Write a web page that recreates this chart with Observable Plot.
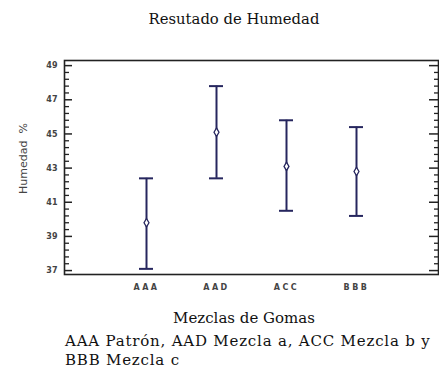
<!DOCTYPE html>
<html>
<head>
<meta charset="utf-8">
<script src="https://cdn.jsdelivr.net/npm/d3@7"></script>
<script src="https://cdn.jsdelivr.net/npm/@observablehq/plot@0.6"></script>
<style>
  body { margin: 0; background: #fff; }
  #fig { position: relative; width: 439px; height: 381px; overflow: hidden; background: #fff; }
  #fig svg { position: absolute; left: 0; top: 0; }
  .serif { position: absolute; font-family: "DejaVu Serif", serif; color: #111; white-space: nowrap; line-height: 19px; }
  #title { top: 9px; left: 0; width: 468px; text-align: center; font-size: 14.8px; }
  #xlab { top: 309px; left: 0; width: 488px; text-align: center; font-size: 15px; }
  #caption { top: 332px; left: 65px; font-size: 15px; letter-spacing: 0.8px; }
  g[aria-label="x-axis tick label"] text { letter-spacing: 2.5px; font-weight: bold; }
  g[aria-label="y-axis tick label"] text { font-weight: bold; }
  g[aria-label="ylabel"] text { letter-spacing: 1.6px; }
</style>
</head>
<body>
<div id="fig">
  <div id="title" class="serif">Resutado de Humedad</div>
  <div id="xlab" class="serif">Mezclas de Gomas</div>
  <div id="caption" class="serif">AAA Patrón, AAD Mezcla a, ACC Mezcla b y<br>BBB Mezcla c</div>
</div>
<script>
// Moisture (%) per rubber blend: mean with lower/upper interval limits
const categories = ["AAA", "AAD", "ACC", "BBB"];
const means = [39.8, 45.1, 43.1, 42.8];
const lower = [37.1, 42.4, 40.5, 40.2];
const upper = [42.4, 47.8, 45.8, 45.4];
const majorTicks = [37, 39, 41, 43, 45, 47, 49];

const rows = categories.map((c, i) => ({mezcla: c, media: means[i], lo: lower[i], hi: upper[i]}));

// minor ticks every 0.4 between the labelled ones
const minorTicks = d3.range(0, 31).map(i => +(37 + i * 0.4).toFixed(1))
  .filter(v => !majorTicks.includes(v));

const NAVY = "#26265e";
const W = 439, ML = 64, MR = 1;
const FW = W - ML - MR;   // frame width in px

const chart = Plot.plot({
  width: W,
  height: 300,
  marginTop: 60,
  marginBottom: 26,
  marginLeft: ML,
  marginRight: MR,
  style: {fontFamily: "DejaVu Sans, sans-serif", fontSize: "8px", color: "#444", background: "transparent"},
  // narrow bands: the band width is the width of the error-bar caps
  x: {type: "band", domain: categories, paddingInner: 0.803, paddingOuter: 1.04, label: null, tickSize: 0, tickPadding: 10},
  y: {domain: [36.77, 49.3], ticks: majorTicks, tickSize: 0, tickPadding: 7, label: null, tickFormat: d => String(d)},
  marks: [
    // inward ticks on both vertical sides of the frame
    Plot.ruleY(majorTicks, {y: d => d, insetRight: FW - 8, stroke: "#222", strokeWidth: 1.5}),
    Plot.ruleY(minorTicks, {y: d => d, insetRight: FW - 5, stroke: "#222", strokeWidth: 1.3}),
    Plot.ruleY(majorTicks, {y: d => d, insetLeft: FW - 9, stroke: "#222", strokeWidth: 1.5}),
    Plot.ruleY(minorTicks, {y: d => d, insetLeft: FW - 4, stroke: "#222", strokeWidth: 1.3}),
    Plot.frame({stroke: "#222", strokeWidth: 1.6}),
    // interval bars with caps
    Plot.ruleX(rows, {x: "mezcla", y1: "lo", y2: "hi", stroke: NAVY, strokeWidth: 2}),
    Plot.tickY(rows, {x: "mezcla", y: "hi", stroke: NAVY, strokeWidth: 2}),
    Plot.tickY(rows, {x: "mezcla", y: "lo", stroke: NAVY, strokeWidth: 2}),
    Plot.dot(rows, {x: "mezcla", y: "media", symbol: "diamond", r: 2.6, stroke: NAVY, fill: "white", strokeWidth: 1.3}),
    // rotated y-axis title
    Plot.text(["Humedad  %"], {text: d => d, frameAnchor: "left", textAnchor: "middle", dx: -41, dy: -9, rotate: -90,
      fontSize: 11, fill: "#444", ariaLabel: "ylabel"})
  ]
});

document.getElementById("fig").prepend(chart);
</script>
</body>
</html>
